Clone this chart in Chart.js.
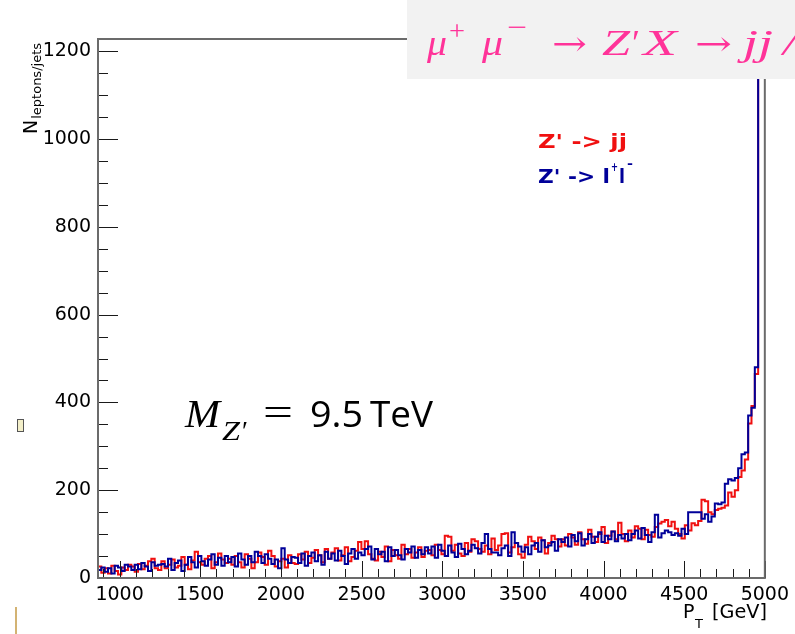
<!DOCTYPE html>
<html>
<head>
<meta charset="utf-8">
<title>PT spectrum</title>
<script src="https://cdn.jsdelivr.net/npm/chart.js@4.4.1/dist/chart.umd.min.js"></script>
<style>
    html, body { margin: 0; padding: 0; background: #fff; }
    #wrap { position: relative; width: 795px; height: 634px; }
</style>
</head>
<body>
<div id="wrap"><canvas id="pt-chart" width="795" height="634"></canvas></div>
<script>
// histogram range and binning
const xMin = 866;
const xMax = 5000;
const yMax = 1228;

// axis ticks (labelled) and minor tick steps
const xTickLabels = [1000, 1500, 2000, 2500, 3000, 3500, 4000, 4500, 5000];
const yTickLabels = [0, 200, 400, 600, 800, 1000, 1200];
const xMinorStep = 100;
const yMinorStep = 50;

// Z' -> jj, counts per bin (200 bins)
const countsJJ = [
    14, 26, 12, 22, 10, 28, 16, 8, 24, 18, 30, 26, 14, 32, 20, 28, 38, 44, 22, 18,
    38, 22, 30, 42, 24, 28, 48, 30, 20, 40, 60, 36, 30, 44, 50, 22, 36, 56, 42, 34,
    44, 30, 50, 36, 24, 54, 44, 22, 36, 58, 48, 30, 62, 50, 26, 38, 44, 24, 52, 34,
    32, 54, 42, 60, 34, 46, 64, 52, 36, 66, 44, 58, 68, 40, 52, 70, 38, 48, 62, 82,
    66, 84, 54, 44, 40, 60, 48, 72, 38, 64, 52, 44, 76, 54, 66, 46, 58, 70, 48, 62,
    64, 52, 76, 64, 54, 96, 94, 62, 76, 56, 50, 80, 60, 88, 84, 66, 60, 74, 54, 90,
    64, 74, 100, 102, 58, 70, 80, 54, 46, 76, 94, 84, 66, 92, 86, 56, 80, 96, 88, 72,
    88, 74, 100, 92, 76, 104, 88, 78, 110, 94, 82, 100, 116, 80, 96, 106, 88, 126, 100, 84,
    108, 92, 118, 112, 88, 110, 98, 94, 116, 124, 128, 132, 118, 128, 112, 100, 90, 120, 108, 125,
    120, 130, 178, 175, 150, 145, 155, 158, 160, 165, 195, 185, 200, 230, 245, 270, 352, 392, 465, 1450
];

// Z' -> l+l-, counts per bin (200 bins)
const countsLL = [
    30, 18, 24, 14, 22, 10, 28, 24, 16, 30, 26, 18, 30, 20, 34, 26, 16, 36, 28, 30,
    32, 26, 44, 18, 34, 40, 16, 30, 48, 36, 24, 50, 38, 28, 42, 54, 30, 46, 28, 50,
    36, 48, 26, 56, 42, 30, 50, 36, 60, 50, 34, 54, 44, 32, 42, 22, 68, 42, 34, 48,
    46, 34, 56, 28, 50, 58, 38, 52, 30, 60, 44, 56, 40, 62, 50, 32, 56, 66, 44, 58,
    52, 66, 72, 42, 66, 54, 60, 38, 70, 50, 64, 52, 42, 66, 58, 72, 46, 64, 54, 70,
    56, 72, 46, 76, 62, 50, 74, 58, 48, 78, 66, 54, 62, 76, 68, 56, 80, 100, 66, 58,
    58, 52, 68, 74, 50, 104, 80, 72, 60, 70, 54, 74, 80, 60, 86, 70, 74, 82, 62, 88,
    82, 92, 72, 98, 84, 102, 74, 88, 100, 80, 94, 104, 82, 96, 88, 106, 84, 98, 90, 100,
    86, 100, 108, 90, 114, 98, 82, 104, 144, 92, 102, 108, 104, 98, 102, 96, 112, 100, 150, 150,
    150, 150, 135, 145, 128, 140, 170, 168, 172, 215, 225, 222, 228, 250, 282, 286, 370, 388, 480, 1500
];

const colJJ = '#f01010';
const colLL = '#000099';
const pink = '#ff3399';

// step points: one per low bin edge, plus the upper edge of the last bin
function toSteps(counts) {
    const w = (xMax - xMin) / counts.length;
    const pts = counts.map((c, i) => ({ x: xMin + i * w, y: c }));
    pts.push({ x: xMax, y: counts[counts.length - 1] });
    return pts;
}

// draw a string squeezed/stretched to a given width
function fitText(ctx, txt, x, y, w, font, color) {
    ctx.save();
    ctx.font = font;
    ctx.fillStyle = color;
    ctx.textBaseline = 'alphabetic';
    ctx.textAlign = 'left';
    const m = ctx.measureText(txt).width;
    ctx.translate(x, y);
    ctx.scale(w / m, 1);
    ctx.fillText(txt, 0, 0);
    ctx.restore();
}

// ROOT-like frame with inward ticks
const rootFrame = {
    id: 'rootFrame',
    afterDatasetsDraw(chart) {
        const { ctx, chartArea: a, scales: { x, y } } = chart;
        ctx.save();
        ctx.strokeStyle = '#1a1a1a';
        ctx.lineWidth = 1;
        ctx.beginPath();
        for (let v = Math.ceil(xMin / xMinorStep) * xMinorStep; v <= xMax; v += xMinorStep) {
            const px = Math.round(x.getPixelForValue(v)) + 0.5;
            const len = xTickLabels.includes(v) ? 17 : 9;
            ctx.moveTo(px, a.bottom);
            ctx.lineTo(px, a.bottom - len);
        }
        for (let v = 0; v <= yMax; v += yMinorStep) {
            const py = Math.round(y.getPixelForValue(v)) + 0.5;
            const len = yTickLabels.includes(v) ? 20 : 10;
            ctx.moveTo(a.left, py);
            ctx.lineTo(a.left + len, py);
        }
        ctx.stroke();
        ctx.strokeStyle = '#6b6b6b';
        ctx.lineWidth = 2;
        ctx.strokeRect(a.left, a.top, a.right - a.left, a.bottom - a.top);
        ctx.restore();
    }
};

// titles, legend and the text overlays
const overlays = {
    id: 'overlays',
    afterDraw(chart) {
        const ctx = chart.ctx;
        ctx.save();

        // y axis title, rotated
        ctx.save();
        ctx.translate(37, 134);
        ctx.rotate(-Math.PI / 2);
        ctx.fillStyle = '#000';
        ctx.font = '19px "DejaVu Sans"';
        ctx.fillText('N', 0, 0);
        const nW = ctx.measureText('N').width;
        ctx.font = '13px "DejaVu Sans"';
        ctx.fillText('leptons/jets', nW + 1, 4);
        ctx.restore();

        // x axis title
        ctx.fillStyle = '#000';
        ctx.font = '19px "DejaVu Sans"';
        ctx.fillText('P', 683, 618);
        ctx.font = '13px "DejaVu Sans"';
        ctx.fillText('T', 695, 628);
        fitText(ctx, '[GeV]', 712, 618, 55, '19px "DejaVu Sans"', '#000');

        // legend
        const lf = 'bold 20px "DejaVu Sans"';
        fitText(ctx, "Z' -> jj", 538, 148, 89, lf, colJJ);
        fitText(ctx, "Z' -> l", 538, 183, 72, lf, colLL);
        fitText(ctx, '+', 611, 171, 7, 'bold 12px "DejaVu Sans"', colLL);
        fitText(ctx, 'l', 619, 183, 6, lf, colLL);
        fitText(ctx, '-', 627, 168, 6, 'bold 13px "DejaVu Sans"', colLL);

        // mass annotation
        const mi = 'italic 40px "Liberation Serif"';
        fitText(ctx, 'M', 185, 427, 35, mi, '#000');
        fitText(ctx, 'Z', 222, 440, 18, 'italic 27px "Liberation Serif"', '#000');
        fitText(ctx, '\u2032', 242, 440, 6, '27px "Liberation Serif"', '#000');
        fitText(ctx, '=', 263, 425, 30, '38px "Liberation Serif"', '#000');
        fitText(ctx, '9.5', 310, 427, 53, '36px "Open Sans"', '#000');
        fitText(ctx, 'TeV', 370, 427, 63, '36px "Open Sans"', '#000');

        // process title box
        ctx.fillStyle = '#f2f2f2';
        ctx.fillRect(407, 0, 388, 79);
        const it = 'italic 36px "Liberation Serif"';
        const up = '27px "Liberation Serif"';
        const rm = '34px "DejaVu Serif"';
        fitText(ctx, '\u03bc', 427, 55, 20, it, pink);
        fitText(ctx, '+', 449, 40, 16, up, pink);
        fitText(ctx, '\u03bc', 482, 55, 21, it, pink);
        fitText(ctx, '\u2212', 507, 36, 20, up, pink);
        fitText(ctx, '\u2192', 552, 55, 35, rm, pink);
        fitText(ctx, 'Z', 602, 55, 28, it, pink);
        fitText(ctx, '\u2032', 632, 55, 8, '36px "Liberation Serif"', pink);
        fitText(ctx, 'X', 643, 55, 34, it, pink);
        fitText(ctx, '\u2192', 695, 55, 37, rm, pink);
        fitText(ctx, 'jj', 743, 55, 30, it, pink);
        fitText(ctx, '/', 783, 55, 14, it, pink);

        // small slide leftovers at the left edge
        ctx.fillStyle = '#f3efc9';
        ctx.strokeStyle = '#555';
        ctx.lineWidth = 1;
        ctx.fillRect(17.5, 419.5, 6, 12);
        ctx.strokeRect(17.5, 419.5, 6, 12);
        ctx.strokeStyle = '#c49a45';
        ctx.lineWidth = 1.5;
        ctx.beginPath();
        ctx.moveTo(16, 607);
        ctx.lineTo(16, 634);
        ctx.stroke();

        ctx.restore();
    }
};

new Chart(document.getElementById('pt-chart'), {
    type: 'line',
    data: {
        datasets: [
            {
                label: "Z' -> l+l-",
                data: toSteps(countsLL),
                borderColor: colLL,
                borderWidth: 2,
                stepped: 'after',
                pointRadius: 0,
                fill: false,
                order: 0
            },
            {
                label: "Z' -> jj",
                data: toSteps(countsJJ),
                borderColor: colJJ,
                borderWidth: 2,
                stepped: 'after',
                pointRadius: 0,
                fill: false,
                order: 1
            }
        ]
    },
    options: {
        responsive: false,
        animation: false,
        devicePixelRatio: 1,
        layout: { padding: { left: 0, top: 39, right: 28, bottom: 0 } },
        plugins: {
            legend: { display: false },
            title: { display: false },
            tooltip: { enabled: false }
        },
        scales: {
            x: {
                type: 'linear',
                min: xMin,
                max: xMax,
                afterBuildTicks: (s) => { s.ticks = xTickLabels.map(v => ({ value: v })); },
                afterFit: (s) => { s.height = 56; },
                grid: { display: false, drawTicks: false },
                border: { display: false },
                ticks: {
                    autoSkip: false,
                    maxRotation: 0,
                    padding: 6,
                    color: '#000',
                    font: { family: 'DejaVu Sans', size: 19 },
                    callback: (v) => String(v)
                }
            },
            y: {
                type: 'linear',
                min: 0,
                max: yMax,
                afterBuildTicks: (s) => { s.ticks = yTickLabels.map(v => ({ value: v })); },
                afterFit: (s) => { s.width = 98; },
                grid: { display: false, drawTicks: false },
                border: { display: false },
                ticks: {
                    autoSkip: false,
                    padding: 7,
                    color: '#000',
                    font: { family: 'DejaVu Sans', size: 19 },
                    callback: (v) => String(v)
                }
            }
        }
    },
    plugins: [rootFrame, overlays]
});
</script>
</body>
</html>
